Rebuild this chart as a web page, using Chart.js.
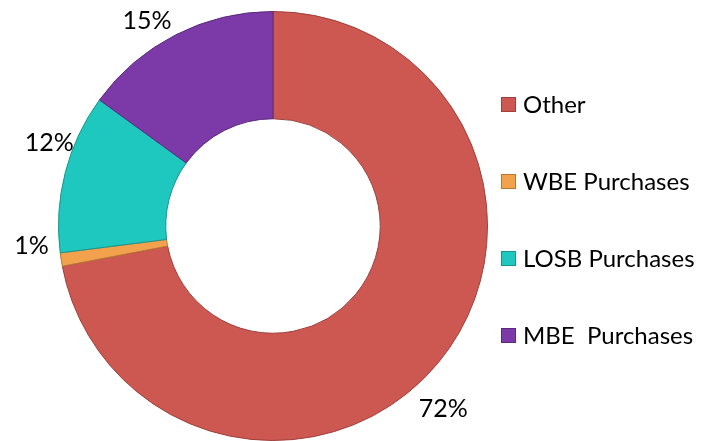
<!DOCTYPE html>
<html>
<head>
<meta charset="utf-8">
<script src="https://cdn.jsdelivr.net/npm/chart.js@4"></script>
<style>
  html, body { margin: 0; padding: 0; background: #fff; }
  #wrap { width: 709px; height: 441px; position: relative; }
</style>
</head>
<body>
<div id="wrap"><canvas id="chart" width="709" height="441"></canvas></div>
<script>
"use strict";

var categories = ["Other", "WBE Purchases", "LOSB Purchases", "MBE  Purchases"];
var shares = [72, 1, 12, 15];
var sliceColors = ["#CD5852", "#F2A24C", "#1EC8BF", "#7B3AA7"];
var edgeColors = ["#9E3F3B", "#B87833", "#17948D", "#5A2A7B"];
var lightColors = ["#E07A74", "#F8C07A", "#5EDED6", "#9A5CC4"];

// small hand nudges for the percent labels (px), like the original's manual placement
var labelNudge = [[-18, 27], [0, -18], [13, -22], [-15, 13]];

// ring shading: lighter rim on both edges, a bit like the bevel in the original
function ringFill(context) {
  var chart = context.chart;
  var i = context.dataIndex;
  var arc = chart.getDatasetMeta(0).data[i];
  if (!arc || !arc.outerRadius) return sliceColors[i];
  var g = chart.ctx.createRadialGradient(arc.x, arc.y, arc.innerRadius, arc.x, arc.y, arc.outerRadius);
  g.addColorStop(0, edgeColors[i]);
  g.addColorStop(0.04, sliceColors[i]);
  g.addColorStop(0.9, sliceColors[i]);
  g.addColorStop(0.96, lightColors[i]);
  g.addColorStop(1, edgeColors[i]);
  return g;
}

// percent labels just outside each slice
var outsideLabels = {
  id: "outsideLabels",
  afterDatasetsDraw: function(chart) {
    var ctx = chart.ctx;
    var meta = chart.getDatasetMeta(0);
    var total = shares.reduce(function(a, b) { return a + b; }, 0);
    ctx.save();
    ctx.font = "25px Lato";
    ctx.fillStyle = "#000";
    ctx.textAlign = "center";
    ctx.textBaseline = "middle";
    meta.data.forEach(function(arc, i) {
      var mid = (arc.startAngle + arc.endAngle) / 2;
      var r = arc.outerRadius + 30;
      var x = arc.x + Math.cos(mid) * r + labelNudge[i][0];
      var y = arc.y + Math.sin(mid) * r + labelNudge[i][1];
      ctx.fillText(Math.round(shares[i] / total * 100) + "%", x, y);
    });
    ctx.restore();
  }
};

// legend on the right, one entry per category
var sideLegend = {
  id: "sideLegend",
  afterDraw: function(chart) {
    var ctx = chart.ctx;
    var x = 501, top = 104, gap = 77;
    ctx.save();
    ctx.font = "24px Lato";
    ctx.textBaseline = "middle";
    categories.forEach(function(name, i) {
      var y = top + i * gap;
      ctx.fillStyle = sliceColors[i];
      ctx.fillRect(x, y - 7, 15, 15);
      ctx.strokeStyle = edgeColors[i];
      ctx.lineWidth = 1;
      ctx.strokeRect(x + 0.5, y - 6.5, 14, 14);
      ctx.fillStyle = "#000";
      ctx.fillText(name, x + 22, y + 1);
    });
    ctx.restore();
  }
};

new Chart(document.getElementById("chart"), {
  type: "doughnut",
  data: {
    labels: categories,
    datasets: [{
      data: shares,
      backgroundColor: ringFill,
      borderColor: edgeColors,
      borderWidth: 1
    }]
  },
  options: {
    responsive: false,
    animation: false,
    cutout: "50%",
    layout: { padding: { left: 58, right: 221, top: 11, bottom: 0 } },
    plugins: {
      legend: { display: false },
      tooltip: { enabled: false }
    }
  },
  plugins: [outsideLabels, sideLegend]
});
</script>
</body>
</html>
